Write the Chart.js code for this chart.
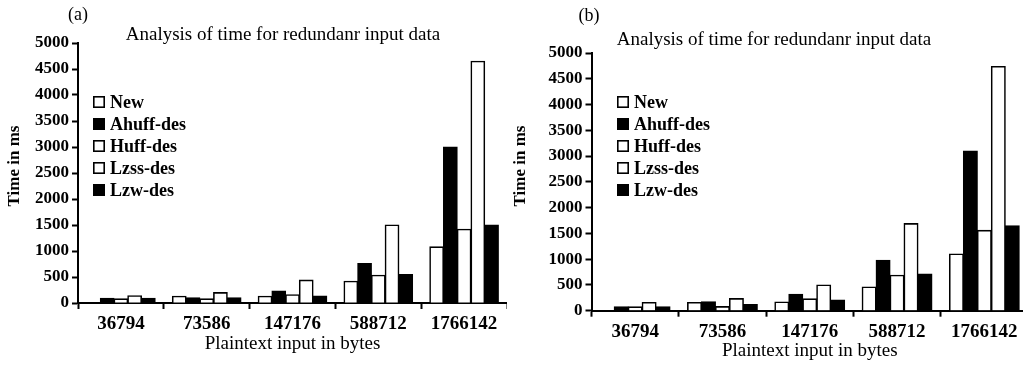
<!DOCTYPE html>
<html>
<head>
<meta charset="utf-8">
<script src="https://cdn.jsdelivr.net/npm/chart.js@4/dist/chart.umd.min.js"></script>
<style>
  html, body { margin: 0; padding: 0; background: #fff; overflow: hidden; }
  #wrapA { position: absolute; left: 0; top: 0; width: 507px; height: 366px; }
  #wrapB { position: absolute; left: 505px; top: 0; width: 523px; height: 366px; }
</style>
</head>
<body>
<div id="wrapA"><canvas id="chartA"></canvas></div>
<div id="wrapB"><canvas id="chartB"></canvas></div>
<script>
  // categorias y series
  const categories = ['36794', '73586', '147176', '588712', '1766142'];
  const seriesNames = ['New', 'Ahuff-des', 'Huff-des', 'Lzss-des', 'Lzw-des'];
  const yTicks = [0, 500, 1000, 1500, 2000, 2500, 3000, 3500, 4000, 4500, 5000];

  // panel (a)
  const newA   = [0, 130, 130, 420, 1080];
  const ahuffA = [90, 100, 230, 760, 3000];
  const huffA  = [80, 80, 160, 535, 1420];
  const lzssA  = [140, 200, 440, 1500, 4650];
  const lzwA   = [90, 100, 135, 550, 1500];

  // panel (b)
  const newB   = [0, 160, 170, 460, 1100];
  const ahuffB = [75, 175, 320, 980, 3100];
  const huffB  = [75, 80, 230, 690, 1560];
  const lzssB  = [160, 235, 500, 1690, 4740];
  const lzwB   = [75, 120, 210, 710, 1650];

  const fills = ['#fff', '#000', '#fff', '#fff', '#000'];
  const SERIF = '"Liberation Serif", "Times New Roman", serif';

  const panelText = {
    id: 'panelText',
    afterDraw(chart, args, o) {
      const ctx = chart.ctx;
      ctx.save();
      ctx.fillStyle = '#000';
      ctx.textAlign = 'center';
      ctx.textBaseline = 'alphabetic';
      ctx.font = '18px ' + SERIF;
      ctx.fillText(o.tag, o.tagX, o.tagY);
      ctx.font = '19px ' + SERIF;
      ctx.fillText(o.title, o.titleX, o.titleY);

      // leyenda dentro del area
      ctx.textAlign = 'left';
      ctx.textBaseline = 'middle';
      ctx.font = 'bold 18px ' + SERIF;
      chart.data.datasets.forEach((ds, i) => {
        const cy = o.legY + i * o.legGap;
        ctx.fillStyle = ds.backgroundColor;
        ctx.fillRect(o.legX, cy - 6, 12, 12);
        ctx.strokeStyle = '#000';
        ctx.lineWidth = 1.6;
        ctx.strokeRect(o.legX + 0.8, cy - 5.2, 10.4, 10.4);
        ctx.fillStyle = '#000';
        ctx.fillText(ds.label, o.legX + 17, cy + 1);
      });

      // titulo eje y
      ctx.translate(o.yTitleX, o.yTitleY);
      ctx.rotate(-Math.PI / 2);
      ctx.textAlign = 'center';
      ctx.font = 'bold 17px ' + SERIF;
      ctx.fillText('Time in ms', 0, 0);
      ctx.restore();
    }
  };

  function makeChart(id, series, cfg) {
    const datasets = series.map((data, i) => ({
      label: seriesNames[i],
      data,
      backgroundColor: fills[i],
      borderColor: '#000',
      borderWidth: 1.6,
      inflateAmount: 0.5,
      barPercentage: 1.0,
      categoryPercentage: 0.8
    }));
    return new Chart(document.getElementById(id), {
      type: 'bar',
      data: { labels: categories, datasets },
      plugins: [panelText],
      options: {
        responsive: true,
        maintainAspectRatio: false,
        animation: false,
        layout: { padding: { top: cfg.top, left: 0, right: 0, bottom: 0 } },
        plugins: {
          legend: { display: false },
          tooltip: { enabled: false },
          panelText: cfg.text
        },
        scales: {
          x: {
            grid: { drawOnChartArea: false, offset: true, tickLength: 6, tickColor: '#000', tickWidth: 2 },
            border: { color: '#000', width: 2 },
            ticks: { color: '#000', padding: 4, maxRotation: 0, font: { family: SERIF, size: 19, weight: 'bold' } },
            title: {
              display: true, text: 'Plaintext input in bytes', color: '#000',
              font: { family: SERIF, size: 19 }, padding: { top: 0, bottom: cfg.xTitlePad }
            },
            afterFit: s => { s.height = cfg.xHeight; }
          },
          y: {
            min: 0, max: 5000,
            grid: { drawOnChartArea: false, tickLength: 6, tickColor: '#000', tickWidth: 2 },
            border: { color: '#000', width: 2 },
            ticks: {
              color: '#000', padding: 3,
              font: { family: SERIF, size: 17, weight: 'bold' },
              callback: v => String(v)
            },
            afterBuildTicks: s => { s.ticks = yTicks.map(v => ({ value: v })); },
            afterFit: s => { s.width = cfg.yWidth; }
          }
        }
      }
    });
  }

  makeChart('chartA', [newA, ahuffA, huffA, lzssA, lzwA], {
    top: 43, yWidth: 78, xHeight: 63, xTitlePad: 11,
    text: {
      tag: '(a)', tagX: 78, tagY: 20,
      title: 'Analysis of time for redundanr input data', titleX: 283, titleY: 40,
      legX: 93, legY: 102, legGap: 22,
      yTitleX: 15, yTitleY: 166
    }
  });

  makeChart('chartB', [newB, ahuffB, huffB, lzssB, lzwB], {
    top: 53, yWidth: 86.5, xHeight: 55.3, xTitlePad: 4,
    text: {
      tag: '(b)', tagX: 84, tagY: 21,
      title: 'Analysis of time for redundanr input data', titleX: 269, titleY: 45,
      legX: 112, legY: 102, legGap: 22,
      yTitleX: 16, yTitleY: 166
    }
  });
</script>
</body>
</html>
